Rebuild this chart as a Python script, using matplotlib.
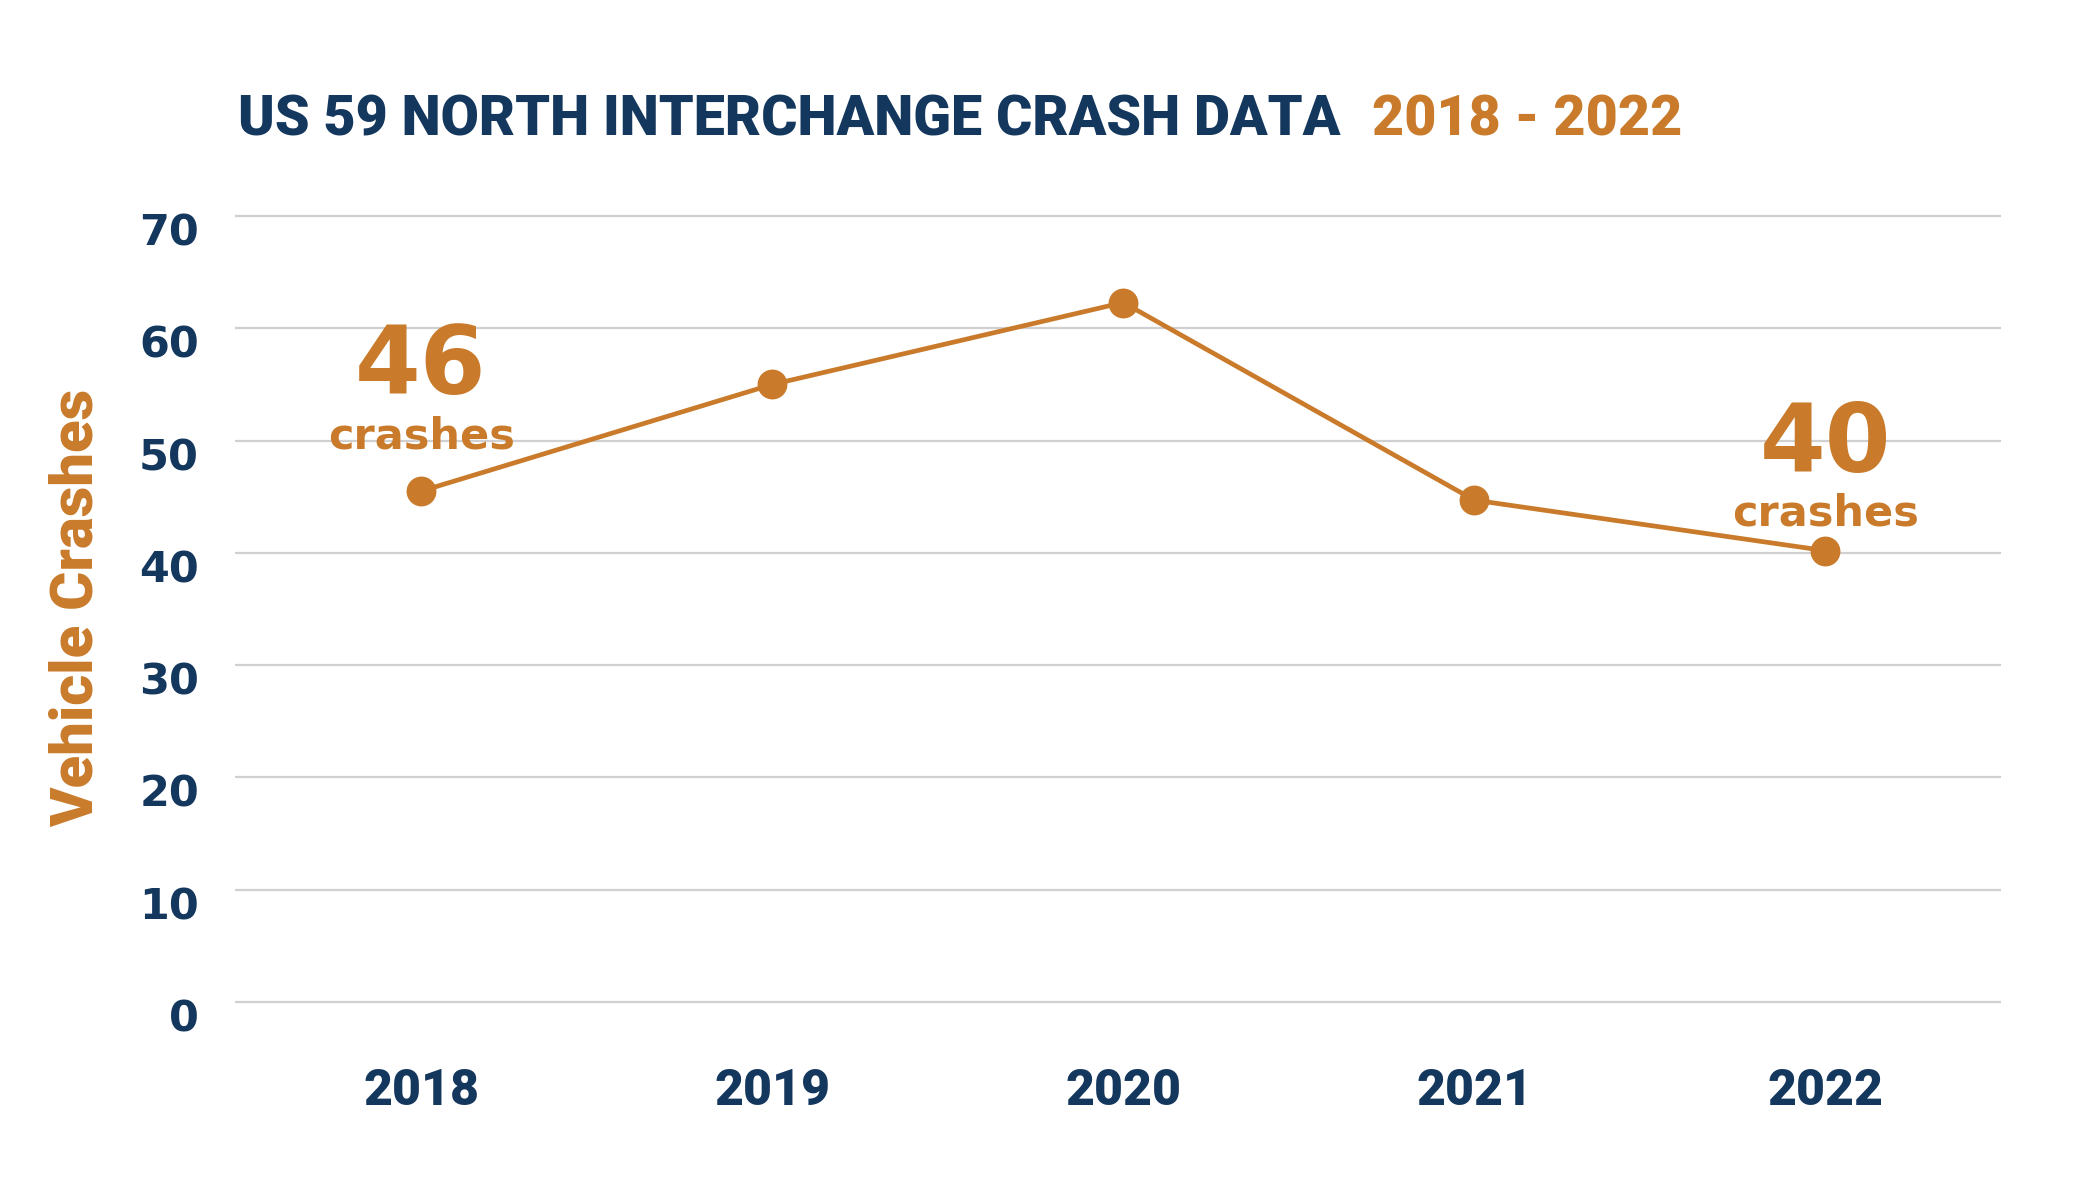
import numpy as np
import matplotlib
matplotlib.use('Agg')
import matplotlib.pyplot as plt
import matplotlib.transforms as mtransforms

# data
years = ['2018', '2019', '2020', '2021', '2022']
crashes = [45.5, 55.0, 62.3, 44.7, 40.2]
yticks = [0, 10, 20, 30, 40, 50, 60, 70]

# callouts: (index, big number, offset of number, offset of "crashes") in points
callouts = [
    (0, '46', 70, 31),
    (4, '40', 57, 18),
]

navy = '#14375E'
orange = '#C97B2B'
grid_col = '#D0D0D0'
narrow = ['Roboto', 'DejaVu Sans']
wide = ['DejaVu Sans']

fig = plt.figure(figsize=(20.8, 11.94), dpi=100)
ax = fig.add_axes([0.113, 0.157, 0.849, 0.6658])

x = np.arange(len(years))
ax.plot(x, crashes, color=orange, lw=3.4, marker='o', ms=20.5, zorder=3)

ax.set_xlim(-0.53, 4.5)
ax.set_ylim(-0.4, 70.4)
ax.set_yticks(yticks)
ax.set_yticklabels([str(v) for v in yticks])
ax.set_xticks(x)
ax.set_xticklabels(years)
ax.grid(axis='y', color=grid_col, lw=1.6)
ax.set_axisbelow(True)
for s in ax.spines.values():
    s.set_visible(False)
ax.tick_params(axis='both', length=0)
ax.tick_params(axis='y', pad=26)
ax.tick_params(axis='x', pad=44)

for lab in ax.get_yticklabels():
    lab.set_fontfamily(wide)
    lab.set_fontweight('bold')
    lab.set_fontsize(31)
    lab.set_color(navy)
    # labels sit a little under their gridlines in the original
    lab.set_transform(lab.get_transform() + mtransforms.ScaledTranslation(0, -0.13, fig.dpi_scale_trans))
for lab in ax.get_xticklabels():
    lab.set_fontfamily(narrow)
    lab.set_fontweight('heavy')
    lab.set_fontsize(36)
    lab.set_color(navy)

for i, num, off_num, off_txt in callouts:
    ax.annotate(num, (x[i], crashes[i]), xytext=(0, off_num), textcoords='offset points',
                ha='center', va='baseline', fontsize=68, fontweight='bold',
                family=wide, color=orange)
    ax.annotate('crashes', (x[i], crashes[i]), xytext=(0, off_txt), textcoords='offset points',
                ha='center', va='baseline', fontsize=31, fontweight='bold',
                family=wide, color=orange)

t1 = fig.text(0.1144, 0.8869, 'US 59 NORTH INTERCHANGE CRASH DATA', ha='left', va='baseline',
              fontsize=40, fontweight='heavy', family=narrow, color=navy)
fig.canvas.draw()
bb = t1.get_window_extent()
x2 = max(0.6596, (bb.x1 + 30) / fig.bbox.width)
fig.text(x2, 0.8869, '2018 - 2022', ha='left', va='baseline',
         fontsize=40, fontweight='heavy', family=narrow, color=orange)

fig.text(0.0368, 0.4908, 'Vehicle Crashes', rotation=90, ha='center', va='center',
         fontsize=43, fontweight='heavy', family=narrow, color=orange)

fig.savefig('out.png', dpi=100, facecolor='white')
